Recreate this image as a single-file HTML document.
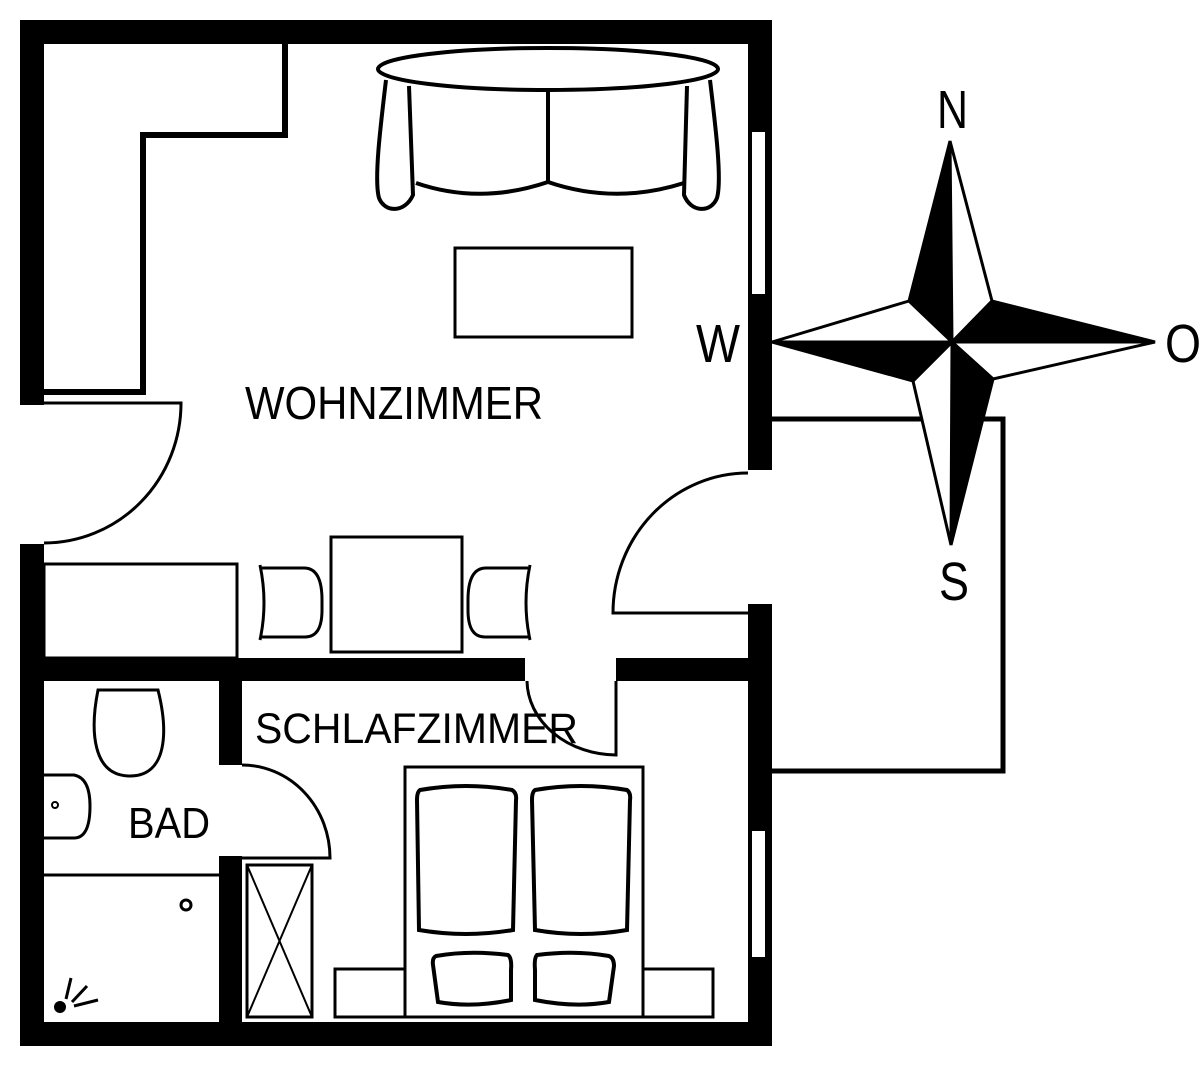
<!DOCTYPE html>
<html><head><meta charset="utf-8"><style>
html,body{margin:0;padding:0;background:#fff;}
svg{display:block;}
text{font-family:"Liberation Sans",sans-serif;fill:#000;}
</style></head><body>
<svg width="1200" height="1068" viewBox="0 0 1200 1068" xmlns="http://www.w3.org/2000/svg">
<rect width="1200" height="1068" fill="#fff"/>
<g fill="#000">
<!-- outer walls -->
<rect x="20" y="20" width="752" height="24"/>
<rect x="20" y="20" width="24" height="385"/>
<rect x="20" y="544" width="24" height="502"/>
<rect x="20" y="1022" width="752" height="24"/>
<rect x="748" y="20" width="24" height="450"/>
<rect x="748" y="604" width="24" height="442"/>
<!-- inner walls -->
<rect x="44" y="658" width="481" height="23"/>
<rect x="616" y="658" width="132" height="23"/>
<rect x="219" y="681" width="23" height="84"/>
<rect x="219" y="856" width="23" height="166"/>
</g>
<!-- windows -->
<rect x="751" y="131" width="15" height="164" fill="#fff" stroke="#000" stroke-width="2"/>
<rect x="751" y="830" width="15" height="128" fill="#fff" stroke="#000" stroke-width="2"/>
<g fill="none" stroke="#000">
<!-- closet L line -->
<path d="M285,44 L285,135 L143,135 L143,392 L44,392" stroke-width="6"/>
<!-- left door -->
<path d="M44,403 L181,403 A137,140 0 0 1 44,543" stroke-width="3"/>
<!-- right door -->
<path d="M748,613 L613,613 A135,140 0 0 1 748,473" stroke-width="3"/>
<!-- bedroom door -->
<path d="M616,681 L616,755 A90,75 0 0 1 527,681" stroke-width="3"/>
<!-- bath door -->
<path d="M242,858 L330,858 A88,93 0 0 0 242,765" stroke-width="3"/>
<!-- balcony -->
<path d="M772,419 L1003,419 L1003,771 L772,771" stroke-width="5"/>
<!-- sofa -->
<path d="M386,80 C380,130 374,180 379,198 C385,213 405,213 413,195 L409,86" stroke-width="4"/>
<path d="M710,80 C716,130 722,180 717,198 C711,213 691,213 684,195 L687,86" stroke-width="4"/>
<path d="M416,183 Q480,205 548,182 Q615,205 684,183" stroke-width="4"/>
<path d="M548,90 L548,183" stroke-width="4"/>
<ellipse cx="548" cy="69" rx="170" ry="21" fill="#fff" stroke-width="4"/>
<!-- coffee table -->
<rect x="455" y="248" width="177" height="89" stroke-width="3"/>
<!-- kitchen counter -->
<rect x="44" y="564" width="193" height="94" stroke-width="3"/>
<!-- dining table -->
<rect x="331" y="537" width="131" height="115" stroke-width="3"/>
<!-- chairs -->
<path d="M260,565 Q268,603 260,640 M262,568 L304,568 Q322,568 322,600 L322,610 Q322,638 304,637 L262,637" stroke-width="3"/>
<path d="M530,565 Q522,603 530,640 M528,568 L486,568 Q468,568 468,600 L468,610 Q468,638 486,637 L528,637" stroke-width="3"/>
<!-- toilet -->
<path d="M98,690 L158,690 C168,730 168,776 130,776 C92,776 90,730 98,690 Z" stroke-width="3"/>
<!-- sink -->
<path d="M44,775 L74,775 Q90,778 90,806 Q90,838 74,838 L44,838" stroke-width="3"/>
<circle cx="55" cy="805" r="3" stroke-width="2"/>
<!-- shower -->
<path d="M44,875 L219,875" stroke-width="3"/>
<circle cx="186" cy="905" r="5" stroke-width="3"/>
<path d="M66,999 L71,978 M72,1002 L87,986 M74,1006 L98,1000" stroke-width="3"/>
<!-- wardrobe -->
<rect x="247" y="865" width="65" height="152" stroke-width="3"/>
<path d="M247,865 L312,1017 M312,865 L247,1017" stroke-width="2"/>
<!-- bed -->
<rect x="335" y="969" width="70" height="48" stroke-width="3"/>
<rect x="643" y="969" width="70" height="48" stroke-width="3"/>
<rect x="405" y="767" width="238" height="250" stroke-width="3"/>
<path d="M420,790 Q466,782 512,790 Q517,793 516,800 L513,930 Q466,938 419,930 L417,800 Q417,792 420,790 Z" stroke-width="4"/>
<path d="M535,790 Q581,782 627,790 Q631,793 630,800 L627,930 Q581,938 535,930 L532,800 Q532,792 535,790 Z" stroke-width="4"/>
<path d="M436,956 Q470,950 508,955 Q512,958 511,970 L511,1000 Q472,1008 438,1002 L433,965 Q432,958 436,956 Z" stroke-width="4"/>
<path d="M537,955 Q575,950 609,956 Q614,958 614,966 L609,1002 Q575,1008 535,1000 L535,970 Q534,958 537,955 Z" stroke-width="4"/>
</g>
<circle cx="60" cy="1007" r="6" fill="#000"/>
<!-- compass -->
<g stroke="#000" stroke-width="3" stroke-linejoin="miter">
<polygon points="950,141 909,301 952,342" fill="#000"/>
<polygon points="950,141 992,301 952,342" fill="#fff"/>
<polygon points="1155,342 992,301 952,342" fill="#000"/>
<polygon points="1155,342 993,379 952,342" fill="#fff"/>
<polygon points="951,545 993,379 952,342" fill="#000"/>
<polygon points="951,545 913,381 952,342" fill="#fff"/>
<polygon points="772,342 913,381 952,342" fill="#000"/>
<polygon points="772,342 909,301 952,342" fill="#fff"/>
</g>
<!-- labels -->
<text x="245" y="419" font-size="46" textLength="298" lengthAdjust="spacingAndGlyphs">WOHNZIMMER</text>
<text x="255" y="743" font-size="43" textLength="323" lengthAdjust="spacingAndGlyphs">SCHLAFZIMMER</text>
<text x="128" y="838" font-size="44" textLength="82" lengthAdjust="spacingAndGlyphs">BAD</text>
<text x="696" y="362" font-size="54" textLength="44" lengthAdjust="spacingAndGlyphs">W</text>
<text x="937" y="128" font-size="54" textLength="31" lengthAdjust="spacingAndGlyphs">N</text>
<text x="1165" y="362" font-size="54" textLength="36" lengthAdjust="spacingAndGlyphs">O</text>
<text x="939" y="600" font-size="54" textLength="30" lengthAdjust="spacingAndGlyphs">S</text>
</svg>
</body></html>
